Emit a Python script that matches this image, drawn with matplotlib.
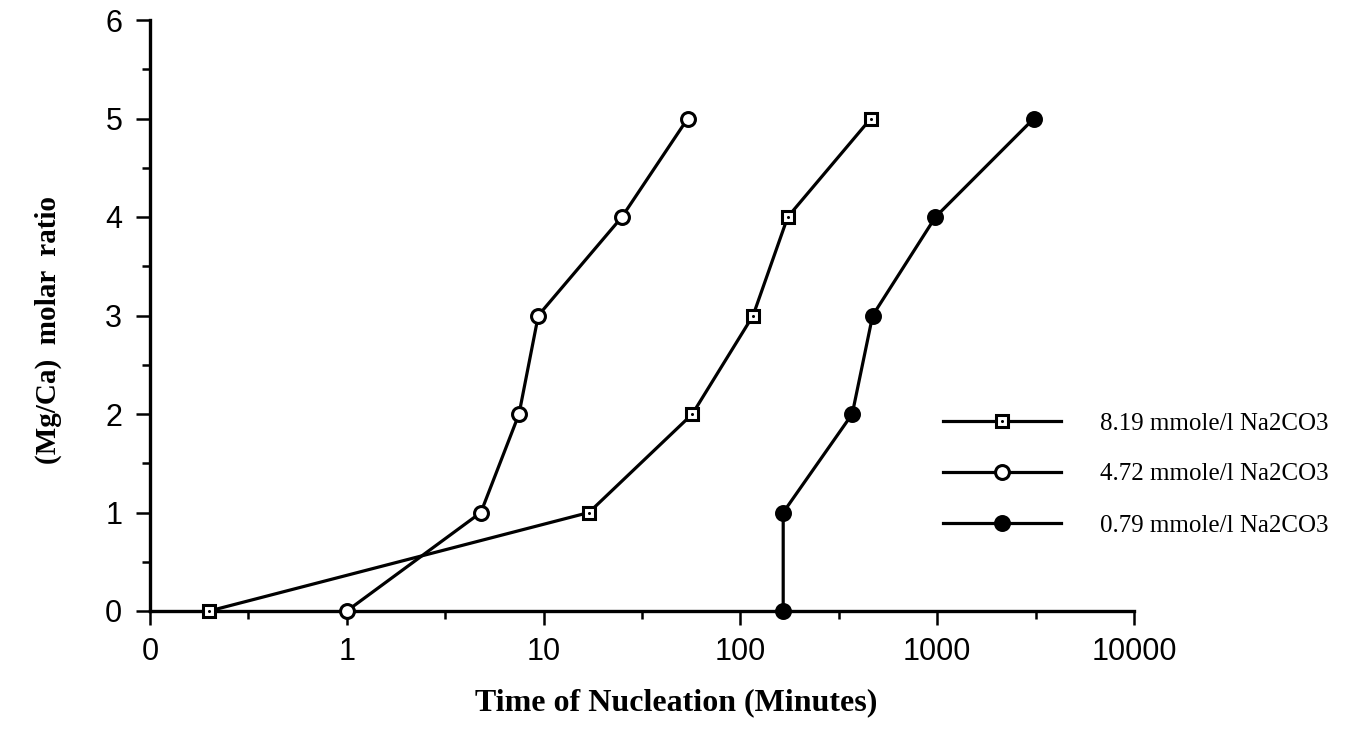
import matplotlib
matplotlib.use('Agg')
import matplotlib.pyplot as plt
import numpy as np

## ------------------------------
## nucleation time (minutes) for each Mg/Ca ratio, one list per Na2CO3 level
ratio = [0, 1, 2, 3, 4, 5]
t_819 = [0.2, 17, 57, 116, 174, 460]
t_472 = [1.0, 4.8, 7.5, 9.4, 25, 54]
t_079 = [165, 165, 370, 470, 980, 3100]
names = ['8.19 mmole/l Na2CO3', '4.72 mmole/l Na2CO3', '0.79 mmole/l Na2CO3']

xticks = [0.1, 1, 10, 100, 1000, 10000]
xticklabels = ['0', '1', '10', '100', '1000', '10000']
xminor = [0.316, 3.16, 31.6, 316, 3162]

W, H = 1351, 741
fig = plt.figure(figsize=(W/100., H/100.), dpi=100)
left, right, bottom, top = 150, 1134, 611, 20
ax = fig.add_axes([left/W, 1-bottom/H, (right-left)/W, (bottom-top)/H])

lw = 2.3
mew = 2.2
# 8.19 : open squares with a dot in the middle
l1, = ax.plot(t_819, ratio, color='k', lw=lw, marker='s', ms=9.2, mfc='w', mec='k', mew=mew, clip_on=False, zorder=3)
d1, = ax.plot(t_819, ratio, ls='none', marker='o', ms=2.2, mfc='k', mec='k', mew=0, clip_on=False, zorder=4)
# 4.72 : open circles
l2, = ax.plot(t_472, ratio, color='k', lw=lw, marker='o', ms=10, mfc='w', mec='k', mew=mew, clip_on=False, zorder=3)
# 0.79 : filled circles
l3, = ax.plot(t_079, ratio, color='k', lw=lw, marker='o', ms=10, mfc='k', mec='k', mew=mew, clip_on=False, zorder=3)

ax.set_xscale('log')
ax.set_xlim(0.1, 10000)
ax.set_ylim(0, 6)
ax.set_xticks(xticks)
ax.set_xticklabels(xticklabels)
ax.set_xticks(xminor, minor=True)
ax.xaxis.set_minor_formatter(matplotlib.ticker.NullFormatter())
ax.set_yticks(range(0, 7))
ax.set_yticks(np.arange(0.5, 6, 1.0), minor=True)

for s in ['top', 'right']:
	ax.spines[s].set_visible(False)
for s in ['left', 'bottom']:
	ax.spines[s].set_linewidth(2.4)
	ax.spines[s].set_capstyle('projecting')

ax.tick_params(which='major', direction='out', length=10, width=1.8, color='k')
ax.tick_params(which='minor', direction='out', length=6, width=1.8, color='k')
ax.tick_params(axis='x', which='major', pad=9)
ax.tick_params(axis='y', which='major', pad=10)
for lab in ax.get_xticklabels() + ax.get_yticklabels():
	lab.set_fontfamily('Liberation Sans')
	lab.set_fontsize(22)

ax.set_xlabel('Time of Nucleation (Minutes)', fontsize=23, fontweight='bold', family='Liberation Serif')
ax.xaxis.set_label_coords((676-left)/float(right-left), -(703-bottom)/float(bottom-top))
ax.xaxis.label.set_va('center')
ax.set_ylabel('(Mg/Ca)  molar  ratio', fontsize=21, fontweight='bold', family='Liberation Serif')
ax.yaxis.set_label_coords((48-left)/float(right-left), (bottom-330)/float(bottom-top))
ax.yaxis.label.set_va('center')

leg = ax.legend([(l1, d1), l2, l3], names, loc='upper left', bbox_to_anchor=(943./W, 1-412./H),
	bbox_transform=fig.transFigure, frameon=False, numpoints=1, handlelength=4.7, handletextpad=1.6,
	labelspacing=1.14, borderpad=0, borderaxespad=0, prop={'family': 'Liberation Serif', 'size': 18})

plt.savefig('out.png', dpi=100)
plt.close(fig)
